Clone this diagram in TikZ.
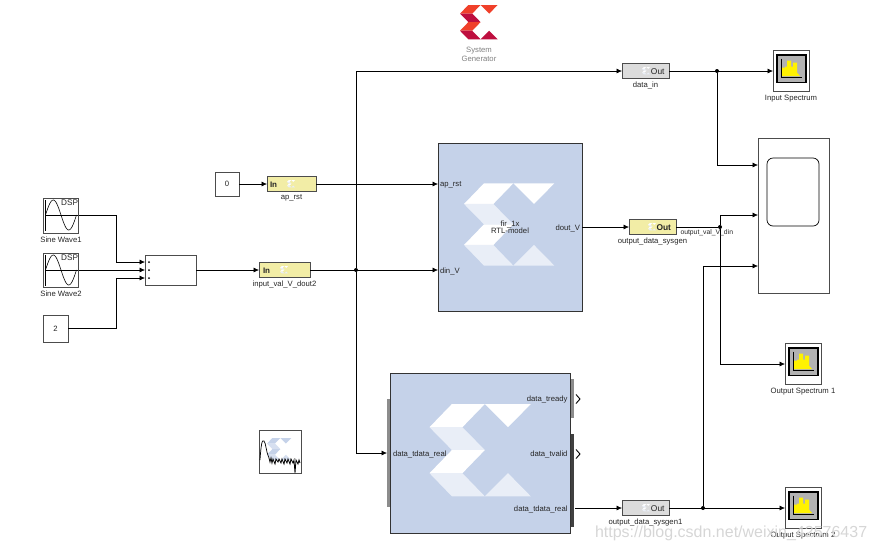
\documentclass[tikz,border=0pt]{standalone}
\usepackage{fontspec}
\setmainfont{Liberation Sans}
\usetikzlibrary{arrows.meta,positioning,shadows}
\definecolor{ipblue}{HTML}{C5D2E9}
\definecolor{iplight}{HTML}{E9EEF7}
\definecolor{gwyellow}{HTML}{F2EDA6}
\definecolor{gwgray}{HTML}{DCDCDC}
\definecolor{xred}{HTML}{F0402A}
\definecolor{xdark}{HTML}{BE0F3F}

\tikzset{
  xbright/.style={fill=white}, xdim/.style={fill=iplight},
  xlogo/.pic={
    \fill[xbright] (60,0) -- (148,0) -- (88,62) -- (0,62) -- cycle;
    \fill[xdim] (0,62) -- (88,62) -- (148,123) -- (60,123) -- cycle;
    \fill[xbright] (60,123) -- (148,123) -- (88,185) -- (0,185) -- cycle;
    \fill[xdim] (0,185) -- (88,185) -- (148,247) -- (60,247) -- cycle;
    \fill[xbright] (148,0) -- (271,0) -- (210,62) -- cycle;
    \fill[xdim] (148,247) -- (210,185) -- (271,247) -- cycle;
  },
  sinewave/.pic={
    \draw[line width=.5pt] (2,2) -- (2,33) (2,17) -- (34,17);
    \draw[line width=.6pt] plot[domain=0:31,samples=40,smooth] (2+\x,{17-15*sin(\x*360/31)});
    \node[txt, font=\fontsize{8.2}{9}\selectfont, anchor=north east] (dsp) at (34.5,2) {DSP};
  },
  spectrum/.pic={
    \draw[black, line width=1.4pt, fill=black!30] (4,4.5) rectangle (33,32);
    \fill[yellow] (9,25.5) -- (9,17) -- (12,17) -- (12,16) -- (14,16) -- (14,10) -- (18,10)
       -- (18,16) -- (20,16) -- (20,12) -- (24,12) -- (24,22) -- (27,25.5) -- cycle;
    \draw[line width=.5pt] (8,8) -- (8,26.5) -- (29,26.5);
  },
}

\begin{document}
\begin{tikzpicture}[%
      x=1pt, y=-1pt,
      every node/.style={inner sep=0pt, outer sep=0pt},
      txt/.style={font=\fontsize{7.7}{8.4}\selectfont, text=black!85, align=center},
      block/.style={rectangle, draw=black!70, line width=.6pt, fill=white,
        drop shadow={shadow xshift=.6pt, shadow yshift=-.8pt, opacity=.6, fill=black!60}},
      ip/.style={rectangle, draw=black!80, line width=.7pt, fill=ipblue},
      gwin/.style={block, fill=gwyellow, minimum width=49pt, minimum height=15pt},
      gwout/.style={block, fill=gwgray, minimum width=47pt, minimum height=15pt},
      scopebox/.style={block, minimum width=36pt, minimum height=41pt},
      wire/.style={draw=black, line width=.6pt},
      dot/.style={circle, fill=black, minimum size=4pt},
      >={Latex[length=5.5pt,width=5pt]}
    ]
    \useasboundingbox (0,0) rectangle (876,550);

    % logo
    \pic[scale=.139, xbright/.style={fill=xred}, xdim/.style={fill=xdark}] at (460,5) {xlogo};
    \node[txt, text=black!50] (sysgen) at (479,54.5) {System\\[1.2pt]Generator};

    % sources
    \node[block, minimum width=35pt, minimum height=35pt] (sine1) at (61,215.5) {};
    \pic at (43.5,198) {sinewave};
    \node[txt, below=3.5pt of sine1] (sine1label) {Sine Wave1};
    \node[block, minimum width=35pt, minimum height=34pt] (sine2) at (61,270) {};
    \pic at (43.5,253) {sinewave};
    \node[txt, below=3.5pt of sine2] (sine2label) {Sine Wave2};
    \node[block, txt, minimum width=25pt, minimum height=27pt] (two) at (55.5,328.5) {2};
    \node[block, txt, minimum width=24pt, minimum height=24pt] (zero) at (227,184) {0};
    \node[block, minimum width=51pt, minimum height=30pt] (mux) at (170.5,270) {};
    \foreach \i/\y in {a/262,b/270,c/278} {
      \coordinate (mux\i) at (145,\y);
      \fill (149,\y) circle (1pt);
    }

    % gateways in
    \node[gwin] (aprst) at (291.5,184) {};
    \node[txt, font=\fontsize{8}{9}\selectfont\bfseries, anchor=west] (aprstin) at (270,185) {In};
    \pic[scale=.03] at (287,180) {xlogo};
    \node[txt, below=3.5pt of aprst] (aprstlabel) {ap\_rst};
    \node[gwin, minimum width=51pt] (inval) at (284.5,270) {};
    \node[txt, font=\fontsize{8}{9}\selectfont\bfseries, anchor=west] (invalin) at (263,271) {In};
    \pic[scale=.03] at (280,266) {xlogo};
    \node[txt, below=3.5pt of inval] (invallabel) {input\_val\_V\_dout2};

    % fir model
    \node[ip, minimum width=144pt, minimum height=168pt] (fir) at (510,227) {};
    \pic[scale=1/3] at (464,183.3) {xlogo};
    \node[txt, font=\fontsize{7.7}{7.2}\selectfont] (firname) at (510,227) {fir\_1x\\RTL-model};
    \node[txt, anchor=west] (firrst) at (440,185) {ap\_rst};
    \node[txt, anchor=west] (firdin) at (440,271) {din\_V};
    \node[txt, anchor=east] (firdout) at (580,228) {dout\_V};
    \coordinate (firrstin) at (438,184);
    \coordinate (firdinin) at (438,270);
    \coordinate (firout) at (582,227);

    % hdl block
    \fill[black!45] (387,399) rectangle (390,507);
    \fill[black!45] (571,379) rectangle (574,418);
    \fill[black!75] (571,434) rectangle (574,527);
    \node[ip, minimum width=180pt, minimum height=160pt] (hdl) at (480,453) {};
    \pic[scale=.374] at (429.5,404) {xlogo};
    \node[txt, anchor=west] (hdlin) at (393,454) {data\_tdata\_real};
    \node[txt, anchor=east] (hdlready) at (567.5,399.5) {data\_tready};
    \node[txt, anchor=east] (hdlvalid) at (567.5,454.5) {data\_tvalid};
    \node[txt, anchor=east] (hdldata) at (567.5,509) {data\_tdata\_real};
    \coordinate (hdlinport) at (387,453);
    \coordinate (hdlout) at (575,508);
    \foreach \y in {399,454} \draw[line width=.9pt] (576,\y-4.5) -- (580,\y) -- (576,\y+4.5);

    % gateways out
    \node[gwout] (datain) at (645.5,71) {};
    \pic[scale=.03] at (642,67) {xlogo};
    \node[txt, font=\fontsize{8.4}{9}\selectfont, anchor=east] (dataintxt) at (664.5,72) {Out};
    \node[txt, below=3.5pt of datain] (datainlabel) {data\_in};
    \node[gwout, fill=gwyellow] (outsys) at (652.5,227) {};
    \pic[scale=.03] at (648,223) {xlogo};
    \node[txt, font=\fontsize{8.4}{9}\selectfont\bfseries, anchor=east] (outsystxt) at (671,228) {Out};
    \node[txt, below=3.5pt of outsys] (outsyslabel) {output\_data\_sysgen};
    \node[gwout] (outsysa) at (645.5,508) {};
    \pic[scale=.03] at (642,504) {xlogo};
    \node[txt, font=\fontsize{8.4}{9}\selectfont, anchor=east] (outsysatxt) at (664.5,509) {Out};
    \node[txt, below=3.5pt of outsysa] (outsysalabel) {output\_data\_sysgen1};

    % sinks
    \node[scopebox] (inspec) at (791,71) {};
    \pic at (773,50.5) {spectrum};
    \node[txt, below=3.5pt of inspec] (inspeclabel) {Input Spectrum};
    \node[scopebox] (outspeca) at (803,364) {};
    \pic at (785,343.5) {spectrum};
    \node[txt, below=3.5pt of outspeca] (outspecalabel) {Output Spectrum 1};
    \node[scopebox] (outspecb) at (803,508) {};
    \pic at (785,487.5) {spectrum};
    \node[txt, below=3.5pt of outspecb] (outspecblabel) {Output Spectrum 2};
    \node[block, minimum width=71pt, minimum height=155pt] (scope) at (793.5,215.5) {};
    \node[rectangle, draw=black, line width=.7pt, rounded corners=6pt, minimum width=52pt, minimum height=68pt] (screen) at (793,192) {};
    \foreach \i/\y in {a/165,b/215,c/266} \coordinate (scope\i) at (758,\y);

    % fft block
    \node[rectangle, draw=black!70, line width=.6pt, fill=white, minimum width=42pt, minimum height=43pt] (fft) at (280,451.5) {};
    \pic[scale=.09, xbright/.style={fill=ipblue}, xdim/.style={fill=ipblue!70}] at (267,438) {xlogo};
    \draw[line width=.7pt] (260,460) .. controls (261,445) and (262,439) .. (264,441) .. controls (266,443) and (266,452) .. (269,458);
    \draw[line width=.8pt] (269,458) -- (270,462) -- (271,458) -- (272,463) -- (273,459) -- (275,464) -- (276,459) -- (278,462)
      -- (279,459) -- (281,463) -- (282,459) -- (284,464) -- (285,459) -- (287,463) -- (288,459) -- (290,464) -- (291,459)
      -- (293,463) -- (294,460) -- (295,473) -- (296,460) -- (298,464) -- (299,460) -- (300,463);

    % junctions
    \node[dot] (jin) at (356,270) {};
    \node[dot] (jspec) at (717,71) {};
    \node[dot] (jout) at (720,227) {};
    \node[dot] (jouta) at (703,508) {};

    % wires
    \coordinate (turna) at (116,262);
    \coordinate (turnc) at (116,278);
    \coordinate (topin) at (356,71);
    \coordinate (botin) at (356,453);
    \path[wire] (sine1.east) -| (turna) edge[->] (muxa)
      (sine2.east) edge[->] (muxb)
      (two.east) -| (turnc) edge[->] (muxc)
      (zero.east) edge[->] (aprst.west)
      (mux.east) edge[->] (inval.west)
      (aprst.east) edge[->] (firrstin)
      (inval.east) edge[->] (firdinin)
      (jin) edge (topin)
      (topin) edge[->] (datain.west)
      (jin) edge (botin)
      (botin) edge[->] (hdlinport)
      (datain.east) edge[->] (inspec.west)
      (firout) edge[->] (outsys.west)
      (outsys.east) edge (jout)
      (hdlout) edge[->] (outsysa.west)
      (outsysa.east) edge[->] (outspecb.west)
      ;
    \draw[wire, ->] (jspec) |- (scopea);
    \draw[wire, ->] (jout) |- (scopeb);
    \draw[wire, ->] (jout) |- (outspeca.west);
    \draw[wire, ->] (jouta) |- (scopec);
    \node[txt, font=\fontsize{6.8}{7}\selectfont, anchor=west] (outwire) at (680.5,232.5) {output\_val\_V\_din};

    % watermark
    \node[font=\fontsize{16}{17}\selectfont, text=black!16, anchor=west] (mark) at (595,533) {https://blog.csdn.net/weixin\_42576437};
\end{tikzpicture}
\end{document}
